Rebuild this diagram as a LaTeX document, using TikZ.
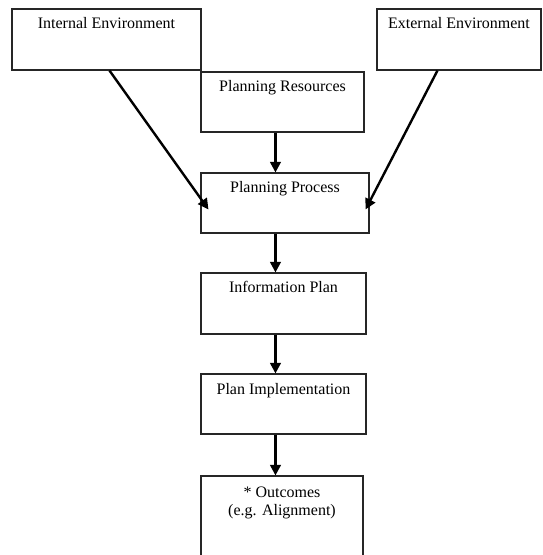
\documentclass[tikz,border=0pt]{standalone}
\usepackage{fontspec}
\setmainfont{Liberation Serif}
\usetikzlibrary{arrows.meta,calc,fit}
\begin{document}
\begin{tikzpicture}[x=0.75pt,y=-0.75pt,
  box/.style={draw=black!85, line width=0.8pt, inner sep=0pt, fill=none},
  title/.style={anchor=base, inner sep=0pt, align=center,
    font=\fontsize{12}{13.5}\selectfont},
  arr/.style={line width=1.8pt, -{Triangle[length=8pt,width=8pt]}}]
\useasboundingbox (0,0) rectangle (542,555);
% boxes
\node[box, fit={(12,9) (201,70)}] (ie) {};
\node[box, fit={(377,9) (541,70)}] (ee) {};
\node[box, fit={(201,72) (364,132)}] (pr) {};
\node[box, fit={(201,173) (369,233)}] (pp) {};
\node[box, fit={(201,273) (366,334)}] (ip) {};
\node[box, fit={(201,374) (366,434)}] (pi) {};
\node[box, fit={(201,476) (363,562)}] (oc) {};
% titles
\node[title] (tie) at ($(ie.north)+(0,20)$) {Internal Environment};
\node[title] (tee) at ($(ee.north)+(0,20)$) {External Environment};
\node[title] (tpr) at ($(pr.north)+(0,20)$) {Planning Resources};
\node[title] (tpp) at ($(pp.north)+(0,20)$) {Planning Process};
\node[title] (tip) at ($(ip.north)+(0,20)$) {Information Plan};
\node[title] (tpi) at ($(pi.north)+(0,21)$) {Plan Implementation};
\node[title] (toc) at ($(oc.north)+(0,40)$) {* Outcomes\\(e.g. Alignment)};
% connectors
\coordinate (ppl) at ($(pp.north west)+(8,37)$);
\coordinate (ppr) at ($(pp.north east)+(-4,37)$);
\draw[arr] ($(ie.south west)+(98,0)$) -- (ppl);
\draw[arr] ($(ee.south west)+(61,0)$) -- (ppr);
\draw[arr] ($(pr.south west)+(75,0)$) -- ($(pp.north west)+(75,0)$);
\draw[arr] ($(pp.south west)+(75,0)$) -- ($(ip.north west)+(75,0)$);
\draw[arr] ($(ip.south west)+(75,0)$) -- ($(pi.north west)+(75,0)$);
\draw[arr] ($(pi.south west)+(75,0)$) -- ($(oc.north west)+(75,0)$);
\end{tikzpicture}
\end{document}
